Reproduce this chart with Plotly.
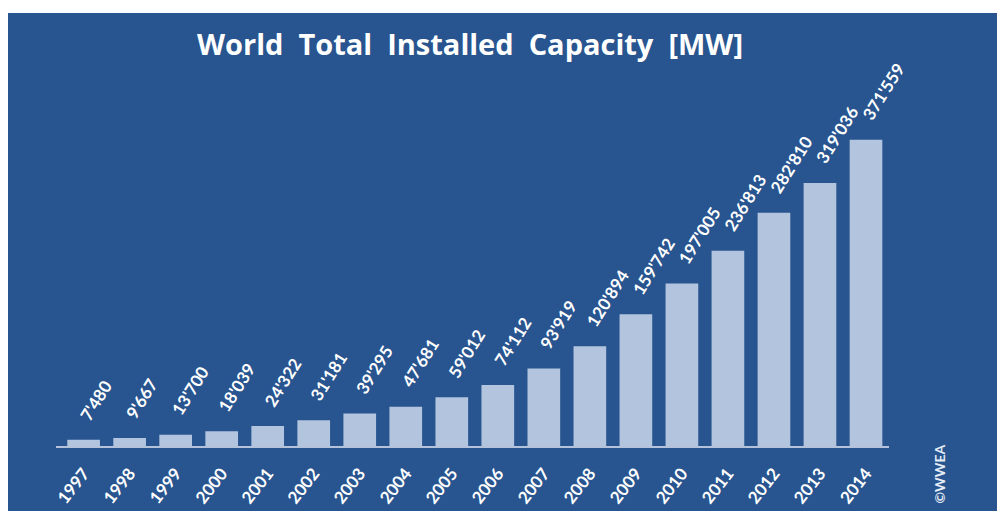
import plotly.graph_objects as go

# World total installed wind capacity, MW
years = ["1997", "1998", "1999", "2000", "2001", "2002", "2003", "2004", "2005",
         "2006", "2007", "2008", "2009", "2010", "2011", "2012", "2013", "2014"]
capacity_mw = [7480, 9667, 13700, 18039, 24322, 31181, 39295, 47681, 59012,
               74112, 93919, 120894, 159742, 197005, 236813, 282810, 319036, 371559]
value_labels = ["7'480", "9'667", "13'700", "18'039", "24'322", "31'181", "39'295",
                "47'681", "59'012", "74'112", "93'919", "120'894", "159'742",
                "197'005", "236'813", "282'810", "319'036", "371'559"]

PANEL = "#28558f"
BAR = "#b2c4de"
FONT = "Lato"

W, H = 997, 513
ML, MR, MT, MB = 56, 108, 75, 67
PW, PH = W - ML - MR, H - MT - MB


def px_x(px):
    """Pixel column -> paper x."""
    return (px - ML) / PW


def px_y(py):
    """Pixel row (from top) -> paper y."""
    return (H - MB - py) / PH


fig = go.Figure()
fig.add_trace(go.Bar(
    x=years, y=capacity_mw,
    marker=dict(color=BAR, line=dict(width=0)),
    width=0.71,
    hoverinfo="x+y",
))

# Rotated value labels above each bar (category index keeps numeric-looking
# year names from being read as serial positions)
for i, (val, lab) in enumerate(zip(capacity_mw, value_labels)):
    fig.add_annotation(
        x=i, y=val, text=lab, showarrow=False,
        textangle=-58, xanchor="left", yanchor="bottom",
        xshift=-11, yshift=13,
        font=dict(family=FONT, size=17, color="white", weight="bold"),
    )

# Title
fig.add_annotation(
    x=px_x(470), y=px_y(43), xref="paper", yref="paper",
    text="World\u00a0 Total\u00a0 Installed\u00a0 Capacity\u00a0 [MW]",
    showarrow=False, font=dict(family="Open Sans", size=29, color="white", weight="bold"),
    xanchor="center", yanchor="middle",
)

# Copyright mark
fig.add_annotation(
    x=px_x(939), y=px_y(506), xref="paper", yref="paper", text="©WWEA", showarrow=False,
    textangle=-90, xanchor="center", yanchor="bottom",
    font=dict(family=FONT, size=14, color="#e6edf7", weight="bold"),
)

fig.update_layout(
    width=W, height=H,
    margin=dict(l=ML, r=MR, t=MT, b=MB, autoexpand=False),
    paper_bgcolor="white",
    plot_bgcolor=PANEL,
    showlegend=False,
    bargap=0.29,
    shapes=[dict(type="rect", xref="paper", yref="paper", layer="below",
                 x0=px_x(8), x1=px_x(W + 2), y0=px_y(511), y1=px_y(13),
                 fillcolor=PANEL, line=dict(width=0))],
)
fig.update_xaxes(
    type="category", automargin=False,
    range=[-0.6, 17.5],
    showgrid=False, zeroline=False,
    showline=True, linecolor="rgba(205,215,232,0.85)", linewidth=1.5,
    tickangle=-52, ticks="", ticklabelstandoff=9,
    tickfont=dict(family=FONT, size=17, color="white", weight="bold"),
)
fig.update_yaxes(range=[0, 450000], visible=False, showgrid=False, zeroline=False,
                 automargin=False)

fig.write_html("out.html")
